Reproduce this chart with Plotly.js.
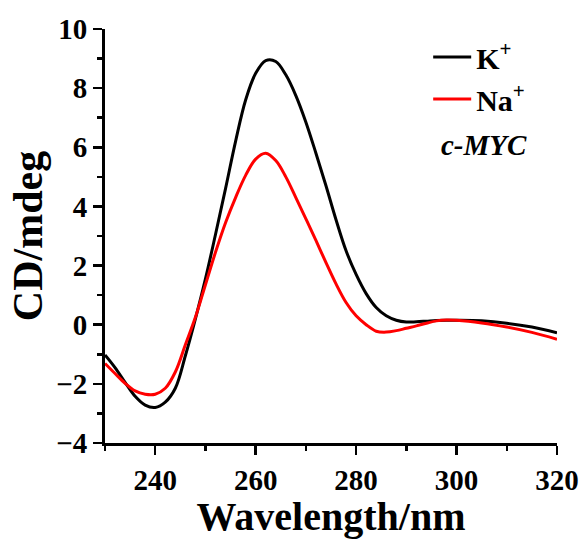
<!DOCTYPE html>
<html>
<head>
<meta charset="utf-8">
<script src="https://cdn.plot.ly/plotly-3.0.1.min.js"></script>
<style>
  html, body { margin: 0; padding: 0; background: #fff; }
  #chart { width: 586px; height: 539px; }
</style>
</head>
<body>
<div id="chart"></div>
<script>
// CD spectra of the c-MYC G-quadruplex in K+ and Na+ buffers
const wavelength = [230, 232, 234, 236, 238, 240, 242, 244, 246, 248, 250, 252, 254, 256, 258, 260,
                    262, 264, 266, 268, 270, 272, 274, 276, 278, 280, 282, 284, 286, 288, 290, 292,
                    294, 296, 298, 300, 305, 310, 315, 320];

const cdPotassium = [-1.02, -1.45, -1.95, -2.42, -2.72, -2.80, -2.62, -2.15, -1.05, 0.20, 1.55, 3.05,
                     4.60, 6.20, 7.60, 8.50, 8.93, 8.90, 8.45, 7.75, 6.85, 5.80, 4.70, 3.55, 2.50, 1.70,
                     1.05, 0.58, 0.30, 0.15, 0.09, 0.10, 0.12, 0.14, 0.15, 0.15, 0.13, 0.05, -0.08, -0.27];

const cdSodium = [-1.31, -1.65, -1.98, -2.24, -2.35, -2.35, -2.15, -1.60, -0.68, 0.25, 1.35, 2.45,
                  3.45, 4.30, 5.05, 5.60, 5.80, 5.55, 5.00, 4.30, 3.58, 2.85, 2.10, 1.38, 0.75, 0.30,
                  0.00, -0.22, -0.25, -0.20, -0.12, -0.04, 0.05, 0.13, 0.16, 0.15, 0.06, -0.08, -0.26, -0.49];

const seriesNames = ['K<sup>+</sup>', 'Na<sup>+</sup>'];
const sampleLabel = '<b><i>c-MYC</i></b>';

const serif = 'Liberation Serif, Times New Roman, serif';

const traces = [
  { x: wavelength, y: cdPotassium, name: seriesNames[0], type: 'scatter', mode: 'lines',
    line: { color: '#000000', width: 3, shape: 'spline', smoothing: 1 } },
  { x: wavelength, y: cdSodium, name: seriesNames[1], type: 'scatter', mode: 'lines',
    line: { color: '#ff0000', width: 3, shape: 'spline', smoothing: 1 } }
];

const axisCommon = {
  showgrid: false, zeroline: false, showline: true, linecolor: '#000', linewidth: 3,
  ticks: 'outside', ticklen: 9, tickwidth: 2.5, tickcolor: '#000',
  tickfont: { family: serif, size: 29, color: '#000', weight: 'bold' },
  mirror: false
};

const layout = {
  width: 586, height: 539,
  margin: { l: 105, r: 29, t: 29, b: 96 },
  paper_bgcolor: '#fff', plot_bgcolor: '#fff',
  font: { family: serif, color: '#000' },
  showlegend: true,
  legend: {
    x: 0.715, y: 0.995, xanchor: 'left', yanchor: 'top',
    bgcolor: 'rgba(0,0,0,0)', borderwidth: 0,
    font: { family: serif, size: 30, color: '#000', weight: 'bold' },
    itemwidth: 38, tracegroupgap: 0
  },
  xaxis: Object.assign({}, axisCommon, {
    range: [230, 320], tick0: 240, dtick: 20,
    minor: { dtick: 10, ticklen: 5, tickwidth: 2.5, tickcolor: '#000', ticks: 'outside', showgrid: false },
    title: { text: '<b>Wavelength/nm</b>', font: { family: serif, size: 40, color: '#000' }, standoff: 10 }
  }),
  yaxis: Object.assign({}, axisCommon, {
    range: [-4, 10], tick0: 0, dtick: 2,
    minor: { dtick: 1, ticklen: 5, tickwidth: 2.5, tickcolor: '#000', ticks: 'outside', showgrid: false },
    title: { text: '<b>CD/mdeg</b>', font: { family: serif, size: 42, color: '#000' }, standoff: 1 }
  }),
  annotations: [{
    xref: 'paper', yref: 'paper', x: 0.838, y: 0.72, xanchor: 'center', yanchor: 'middle',
    text: sampleLabel, showarrow: false,
    font: { family: serif, size: 29, color: '#000' }
  }]
};

Plotly.newPlot('chart', traces, layout, { displayModeBar: false, staticPlot: true });
</script>
</body>
</html>
